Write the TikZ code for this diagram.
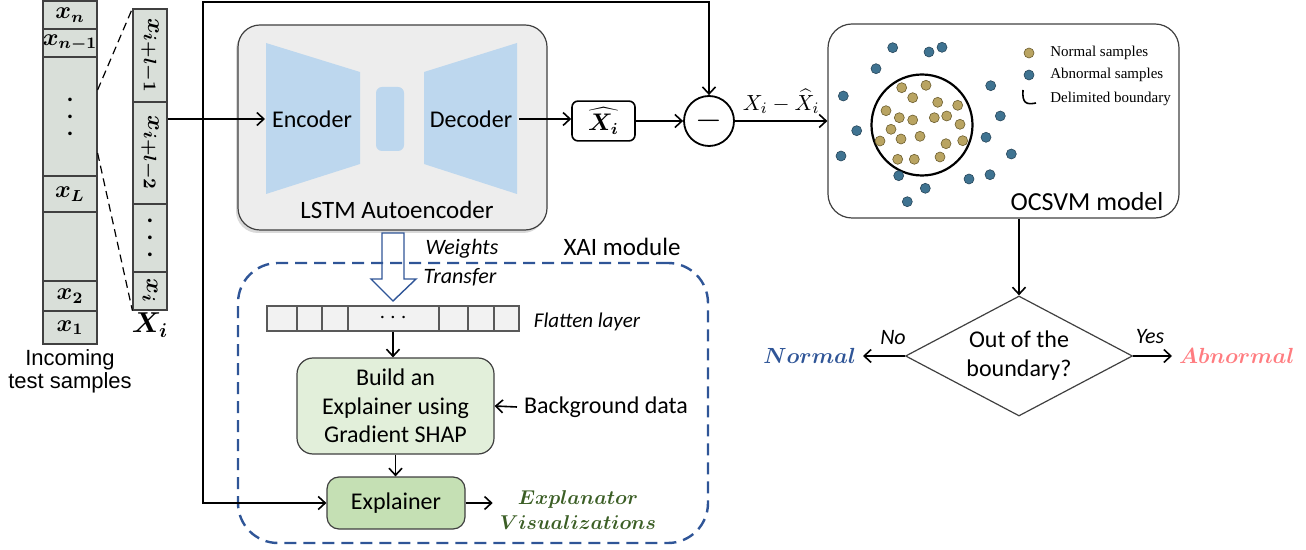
\documentclass[tikz,border=0pt]{standalone}
\usepackage[no-math]{fontspec}
\setmainfont{Carlito}
\newfontfamily\arialfont{Liberation Sans}
\newfontfamily\timesfont{Liberation Serif}
\usepackage{bm}
\usetikzlibrary{arrows.meta,shapes.geometric,shadows}

\definecolor{cellfill}{HTML}{D9DFD9}
\definecolor{cellline}{HTML}{404040}
\definecolor{boxline}{HTML}{404040}
\definecolor{lstmfill}{HTML}{EDEDED}
\definecolor{aeblue}{HTML}{BDD7EE}
\definecolor{xaiblue}{HTML}{2F5597}
\definecolor{buildfill}{HTML}{E2EFDA}
\definecolor{explfill}{HTML}{C5E0B4}
\definecolor{flatfill}{HTML}{F2F2F2}
\definecolor{flatline}{HTML}{595959}
\definecolor{normfill}{HTML}{B9A462}
\definecolor{normline}{HTML}{6B5D2E}
\definecolor{abnfill}{HTML}{3F7391}
\definecolor{abnline}{HTML}{27465A}
\definecolor{visgreen}{HTML}{3B5E25}
\definecolor{abnpink}{HTML}{FF7C80}

\newcommand{\celldots}{\vbox{\baselineskip=8.5pt\hbox{\textbf{.}}\hbox{\textbf{.}}\hbox{\textbf{.}}}}

\tikzset{
  flow/.style={-{Straight Barb[length=3.5pt,width=6.5pt]}, line width=0.8pt},
  cell/.style={draw=cellline, fill=cellfill, line width=0.6pt, inner sep=0pt,
    font=\fontsize{12}{12}\selectfont},
  leftcell/.style={cell, minimum width=27pt},
  rightcell/.style={cell, minimum width=17pt, font=\fontsize{12.5}{12.5}\selectfont},
  zoomline/.style={line width=0.6pt, dash pattern=on 4pt off 2.5pt},
  roundbox/.style={draw=boxline, line width=0.6pt},
  normdot/.style={fill=normfill, draw=normline, line width=0.3pt},
  abndot/.style={fill=abnfill, draw=abnline, line width=0.3pt},
  legendtxt/.style={anchor=west, inner sep=0pt, font=\timesfont\fontsize{7.5}{9}\selectfont},
  outcome/.style={font=\fontsize{10.5}{12}\selectfont},
}

\begin{document}
\begin{tikzpicture}[x=0.5pt, y=-0.5pt, font=\fontsize{12}{14.4}\selectfont]
  \useasboundingbox (0,0) rectangle (1306,550);

  \node[leftcell, minimum height=14pt] (xn) at (70,15) {$\bm{x_n}$};
  \node[leftcell, minimum height=14pt] (xnm) at (70,43) {$\bm{x_{n-1}}$};
  \node[leftcell, minimum height=59.5pt] (xdots) at (70,116.5) {\celldots};
  \node[leftcell, minimum height=18pt] (xL) at (70,194) {$\bm{x_L}$};
  \node[leftcell, minimum height=34.5pt] (xgap) at (70,246.5) {};
  \node[leftcell, minimum height=15pt] (x2) at (70,296) {$\bm{x_2}$};
  \node[leftcell, minimum height=16.5pt] (x1) at (70,327.5) {$\bm{x_1}$};
  \node[font=\arialfont\fontsize{11}{11.5}\selectfont, align=center] (incap) at (70,371) {Incoming\\test samples};

  \node[rightcell, minimum height=46.5pt] (wa) at (150,55.5) {\rotatebox{-90}{$\bm{x_{i+l-1}}$}};
  \node[rightcell, minimum height=51pt] (wb) at (150,153) {\rotatebox{-90}{$\bm{x_{i+l-2}}$}};
  \node[rightcell, minimum height=34pt] (wc) at (150,238) {\celldots};
  \node[rightcell, minimum height=19pt] (wd) at (150,291) {\rotatebox{-90}{$\bm{x_i}$}};
  \node (xicap) at (150,325) {\fontsize{14}{14}\selectfont$\bm{X_i}$};

  \draw[zoomline] ([yshift=13.25pt]xdots.east) -- (wa.north west);
  \draw[zoomline] ([yshift=-18.25pt]xdots.east) -- (wd.south west);

  \node[roundbox, fill=lstmfill, rounded corners=11pt, minimum width=154.5pt, minimum height=102.5pt,
    drop shadow={opacity=0.3, shadow xshift=-1pt, shadow yshift=-1.5pt}] (lstm) at (392.5,127.5) {};
  \fill[aeblue] (266,43) -- (360,72) -- (360,164) -- (266,194) -- cycle;
  \fill[aeblue] (424,72) -- (517,43) -- (517,194) -- (424,164) -- cycle;
  \fill[aeblue, rounded corners=3pt] (376,87) rectangle (404,151);
  \node (enc) at (312,119) {Encoder};
  \node (dec) at (471,119) {Decoder};
  \node[font=\fontsize{12.5}{15}\selectfont] (lstmtxt) at (397,210) {LSTM Autoencoder};

  \node[draw, line width=0.8pt, rounded corners=3pt, minimum width=31.5pt, minimum height=18pt] (xhat) at (603.5,121) {$\widehat{\bm{X_i}}$};
  \node[circle, draw, line width=0.9pt, minimum size=25pt, inner sep=0pt] (minus) at (709,121) {\fontsize{17}{17}\selectfont$-$};

  \node[roundbox, rounded corners=12pt, minimum width=175.5pt, minimum height=97pt] (ocsvm) at (1003.5,121) {};
  \node[circle, draw, line width=1.1pt, minimum size=50.5pt, inner sep=0pt] (bound) at (922,125) {};
  \foreach \px/\py in {901.7/87.7, 926/85.3, 912.7/97.7, 937.7/102.3, 957.7/105.3, 886/110.7, 899.3/117.7,
    912.7/120, 934.3/117.7, 946.7/116, 960/124.3, 891/129.3, 880/141, 901/139, 920/136.3, 946/143.7,
    962.7/140.7, 897.7/159.3, 914.3/159.3, 940/157}
    \draw[normdot] (\px,\py) circle (2.5pt);
  \foreach \px/\py in {892.7/47.7, 929/52, 942/47.3, 876/68.7, 843.3/96, 990.7/85.7, 1000.3/116, 856.7/130.7,
    986/137.3, 841/156, 1011.3/154, 898.7/175.7, 969/179, 990/174.7, 925.3/188.3, 907.3/201.7}
    \draw[abndot] (\px,\py) circle (2.5pt);
  \draw[normdot] (1029,53) circle (2.5pt);
  \draw[abndot] (1029,75) circle (2.5pt);
  \draw[line width=0.8pt] (1023,90) .. controls (1022,103) and (1026,105) .. (1036,103);
  \node[legendtxt] (lgnorm) at (1050,53) {Normal samples};
  \node[legendtxt] (lgabn) at (1050,75) {Abnormal samples};
  \node[legendtxt] (lgbound) at (1050,99) {Delimited boundary};
  \node[font=\fontsize{13}{15}\selectfont] (ocsvmtxt) at (1087,202) {OCSVM model};

  \node[diamond, roundbox, aspect=1.9, minimum width=113.5pt, minimum height=60pt, inner sep=0pt,
    align=center, font=\fontsize{12}{14.5}\selectfont] (chk) at (1019,356) {Out of the\\boundary?};
  \node[outcome, text=xaiblue, anchor=east] (normal) at (863,356) {$\bm{Normal}$};
  \node[outcome, text=abnpink, anchor=west] (abnormal) at (1172,356) {$\bm{Abnormal}$};
  \node[font=\itshape\fontsize{11}{13}\selectfont] (no) at (893,338) {No};
  \node[font=\itshape\fontsize{11}{13}\selectfont] (yes) at (1150,337) {Yes};

  \node[draw=xaiblue, line width=1.2pt, dash pattern=on 6pt off 3.5pt, rounded corners=20pt,
    minimum width=235pt, minimum height=140pt] (xai) at (473,403) {};
  \node[font=\fontsize{12.5}{15}\selectfont] (xaitxt) at (622,247) {XAI module};
  \draw[xaiblue, line width=0.7pt] (382,233) -- (404,233) -- (404,279) -- (416,279) -- (393,301)
    -- (371,279) -- (382,279) -- cycle;
  \node[font=\itshape\fontsize{11}{13}\selectfont] (wtxt) at (462,249) {Weights};
  \node[font=\itshape\fontsize{11}{13}\selectfont] (ttxt) at (460,277) {Transfer};

  \node[draw=flatline, fill=flatfill, line width=0.8pt, minimum width=126pt, minimum height=12.5pt,
    inner sep=0pt] (flat) at (393,318.5) {$\cdots$};
  \foreach \dx in {297,322,348,439,468,494}
    \draw[flatline, line width=0.6pt] (\dx,306) -- (\dx,331);
  \node[font=\itshape\fontsize{10.5}{12}\selectfont] (flattxt) at (587,322) {Flatten layer};

  \node[roundbox, fill=buildfill, rounded corners=8pt, minimum width=98.5pt, minimum height=48pt,
    align=center, font=\fontsize{12}{14.3}\selectfont] (build) at (395.5,406) {Build an\\Explainer using\\Gradient SHAP};
  \node (bg) at (606,407) {Background data};
  \node[roundbox, fill=explfill, rounded corners=6pt, minimum width=69pt, minimum height=26pt] (expl) at (396,503) {Explainer};
  \node[text=visgreen, align=center, font=\fontsize{10}{12.5}\selectfont] (vis) at (578,510.5) {$\bm{Explanator}$\\$\bm{Visualizations}$};

  \coordinate (split) at (203,119);
  \coordinate (topleft) at (203,2);
  \draw[flow] (wb.east |- split) -- (enc.west);
  \draw[flow] (split) -- (topleft) -| (minus.north);
  \draw[flow] (split) |- (expl.west);
  \draw[flow] (dec.east) -- (dec.east -| xhat.west);
  \draw[flow] (xhat.east) -- (minus.west);
  \draw[flow] (minus.east) -- node[above, font=\fontsize{11}{13}\selectfont] {$X_i-\widehat{X}_i$} (ocsvm.west);
  \draw[flow] (ocsvm.south -| chk.north) -- (chk.north);
  \draw[flow] (chk.west) -- (normal.east);
  \draw[flow] (chk.east) -- (abnormal.west);
  \draw[flow] (flat.south) -- (flat.south |- build.north);
  \draw[flow] (bg.west) -- (build.east);
  \draw[flow] (build.south) -- (build.south |- expl.north);
  \draw[flow] (expl.east) -- (expl.east -| vis.west);
\end{tikzpicture}
\end{document}
